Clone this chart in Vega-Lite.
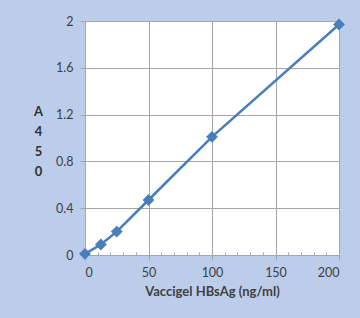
{
  "$schema": "https://vega.github.io/schema/vega-lite/v6.json",
  "width": 254,
  "height": 234,
  "autosize": "none",
  "padding": {"left": 85, "top": 21, "right": 21, "bottom": 63},
  "background": "#bccdeb",
  "config": {"view": {"stroke": null, "fill": "white"}, "font": "Lato"},
  "data": {"values": [
    {"conc": 0, "a450": 0.01},
    {"conc": 12.5, "a450": 0.09},
    {"conc": 25, "a450": 0.2},
    {"conc": 50, "a450": 0.47},
    {"conc": 100, "a450": 1.01},
    {"conc": 200, "a450": 1.97}
  ]},
  "resolve": {"axis": {"x": "independent"}},
  "layer": [
    {
      "mark": {"type": "line", "color": "#4a7ebb", "strokeWidth": 2.5},
      "encoding": {
        "x": {"field": "conc", "type": "quantitative", "scale": {"domain": [0, 200], "nice": false},
          "axis": {"values": [0, 50, 100, 150, 200], "grid": true, "gridColor": "#a6a6a6", "domainColor": "#a6a6a6", "tickColor": "#a6a6a6", "tickSize": 5,
            "labelFontSize": 12.5, "labelColor": "#404040", "labelPadding": 6, "format": "d",
            "title": "Vaccigel HBsAg (ng/ml)", "titleFontSize": 13, "titleFontWeight": "bold", "titleColor": "#404040", "titlePadding": 7}},
        "y": {"field": "a450", "type": "quantitative", "scale": {"domain": [0, 2], "nice": false},
          "axis": {"values": [0, 0.4, 0.8, 1.2, 1.6, 2], "grid": true, "gridColor": "#a6a6a6", "domainColor": "#a6a6a6", "tickColor": "#a6a6a6", "tickSize": 5,
            "labelFontSize": 12.5, "labelColor": "#404040", "labelPadding": 7, "format": "~g",
            "title": ["A", "4", "5", "0"], "titleAngle": 0, "titleAlign": "center", "titleBaseline": "top", "titleX": -47, "titleY": 84, "titleLineHeight": 20,
            "titleFontSize": 13, "titleFontWeight": "bold", "titleColor": "#303030"}}
      }
    },
    {
      "mark": {"type": "point", "shape": "diamond", "filled": true, "size": 140, "color": "#4a7ebb", "opacity": 1},
      "encoding": {
        "x": {"field": "conc", "type": "quantitative",
          "axis": {"values": [10, 20, 30, 40, 60, 70, 80, 90, 110, 120, 130, 140, 160, 170, 180, 190], "orient": "bottom", "grid": false, "domain": false, "labels": false, "title": null, "tickColor": "#a6a6a6", "tickSize": -3}},
        "y": {"field": "a450", "type": "quantitative"}
      }
    }
  ]
}
